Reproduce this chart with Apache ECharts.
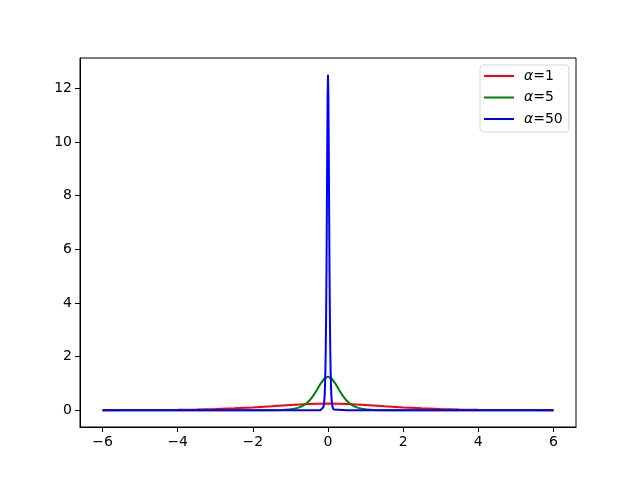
<!DOCTYPE html>
<html>
<head>
<meta charset="utf-8">
<script src="https://cdn.jsdelivr.net/npm/echarts@6/dist/echarts.min.js"></script>
<style>
  html, body { margin: 0; padding: 0; background: #fff; }
  #chart { width: 640px; height: 480px; }
</style>
</head>
<body>
<div id="chart"></div>
<script>
// values
const xTicks = [-6, -4, -2, 0, 2, 4, 6];
const yTicks = [0, 2, 4, 6, 8, 10, 12];

const names = ['α=1', 'α=5', 'α=50'];
const colors = ['#ff0000', '#008000', '#0000ff'];

const xRed = [-6, -5.5, -5, -4.5, -4, -3.5, -3, -2.5, -2, -1.5, -1, -0.5, 0,
  0.5, 1, 1.5, 2, 2.5, 3, 3.5, 4, 4.5, 5, 5.5, 6];
const yRed = [0.0025, 0.0041, 0.0066, 0.0109, 0.0177, 0.0285, 0.0452, 0.0701, 0.105, 0.1491, 0.1966, 0.235, 0.25,
  0.235, 0.1966, 0.1491, 0.105, 0.0701, 0.0452, 0.0285, 0.0177, 0.0109, 0.0066, 0.0041, 0.0025];

const xGreen = [-6, -3, -2, -1.5, -1.2, -1, -0.9, -0.8, -0.7, -0.6, -0.5, -0.4, -0.3, -0.2, -0.1, 0,
  0.1, 0.2, 0.3, 0.4, 0.5, 0.6, 0.7, 0.8, 0.9, 1, 1.2, 1.5, 2, 3, 6];
const yGreen = [0, 0, 0.0002, 0.0028, 0.012, 0.033, 0.054, 0.088, 0.142, 0.226, 0.351, 0.525, 0.746, 0.983, 1.175, 1.25,
  1.175, 0.983, 0.746, 0.525, 0.351, 0.226, 0.142, 0.088, 0.054, 0.033, 0.012, 0.0028, 0.0002, 0, 0];

const xBlue = [-6, -0.5, -0.2, -0.15, -0.12, -0.1, -0.09, -0.08, -0.07, -0.06, -0.05, -0.04, -0.03, -0.02, -0.01, 0,
  0.01, 0.02, 0.03, 0.04, 0.05, 0.06, 0.07, 0.08, 0.09, 0.1, 0.12, 0.15, 0.2, 0.5, 6];
const yBlue = [0, 0, 0.002, 0.028, 0.12, 0.33, 0.54, 0.88, 1.42, 2.26, 3.51, 5.25, 7.46, 9.83, 11.75, 12.5,
  11.75, 9.83, 7.46, 5.25, 3.51, 2.26, 1.42, 0.88, 0.54, 0.33, 0.12, 0.028, 0.002, 0, 0];

const pairs = (xs, ys) => xs.map((x, i) => [x, ys[i]]);
const minus = v => String(v).replace('-', '\u2212');

const chart = echarts.init(document.getElementById('chart'));

const axisCommon = {
  type: 'value',
  splitLine: { show: false },
  axisLine: { show: true, onZero: false, lineStyle: { color: '#000', width: 1 } },
  axisTick: { show: true, length: 5, lineStyle: { color: '#000', width: 1 } },
  axisLabel: { color: '#000', fontSize: 14, fontFamily: 'DejaVu Sans', margin: 8, formatter: minus }
};

chart.setOption({
  animation: false,
  backgroundColor: '#fff',
  textStyle: { fontFamily: 'DejaVu Sans' },
  grid: {
    left: 80, right: 64, top: 58, bottom: 53,
    show: true, borderColor: '#000', borderWidth: 1, backgroundColor: 'transparent'
  },
  xAxis: Object.assign({}, axisCommon, {
    min: -6.6, max: 6.6,
    axisTick: Object.assign({}, axisCommon.axisTick, { customValues: xTicks }),
    axisLabel: Object.assign({}, axisCommon.axisLabel, { customValues: xTicks })
  }),
  yAxis: Object.assign({}, axisCommon, {
    min: -0.625, max: 13.125,
    axisTick: Object.assign({}, axisCommon.axisTick, { customValues: yTicks }),
    axisLabel: Object.assign({}, axisCommon.axisLabel, { customValues: yTicks })
  }),
  legend: {
    orient: 'vertical',
    left: 480, top: 65,
    padding: [4, 6, 6, 4],
    itemGap: 7.5,
    icon: 'rect',
    itemWidth: 30,
    itemHeight: 2,
    backgroundColor: '#fff',
    borderColor: '#d6d6d6',
    borderWidth: 1,
    borderRadius: 3,
    data: names,
    formatter: name => '{a|α}' + name.slice(1),
    textStyle: {
      color: '#000', fontSize: 14, lineHeight: 14, fontFamily: 'DejaVu Sans',
      padding: [0, 0, 0, 5],
      rich: { a: { fontStyle: 'italic', fontSize: 14, fontFamily: 'DejaVu Sans' } }
    }
  },
  series: [
    { name: names[0], type: 'line', data: pairs(xRed, yRed) },
    { name: names[1], type: 'line', data: pairs(xGreen, yGreen) },
    { name: names[2], type: 'line', data: pairs(xBlue, yBlue) }
  ].map((s, i) => Object.assign(s, {
    symbol: 'none',
    color: colors[i],
    lineStyle: { color: colors[i], width: 2 }
  }))
});
</script>
</body>
</html>
